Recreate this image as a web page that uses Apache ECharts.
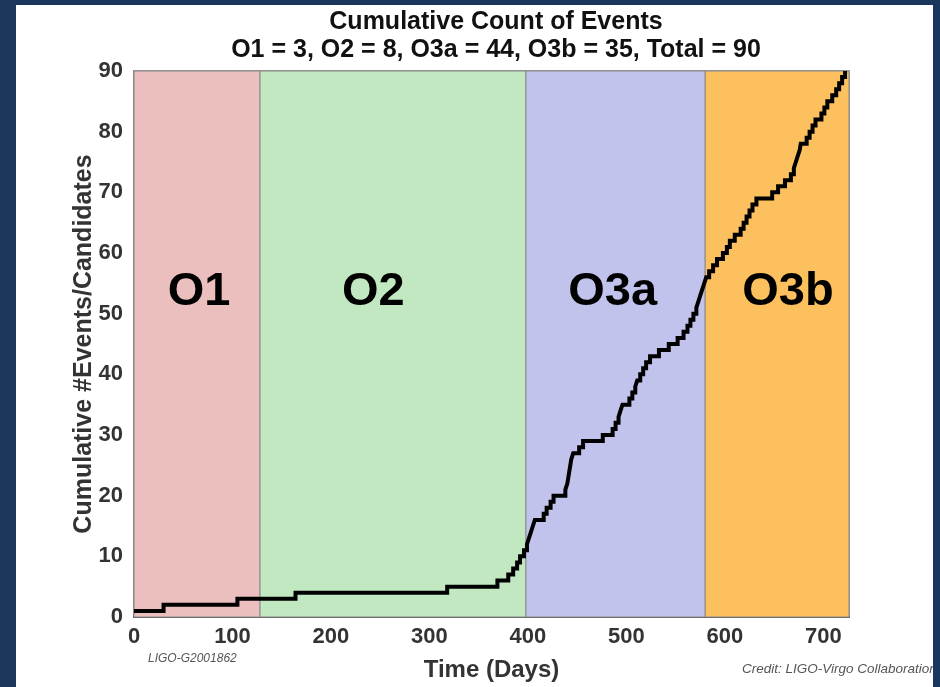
<!DOCTYPE html>
<html>
<head>
<meta charset="utf-8">
<script src="https://cdn.jsdelivr.net/npm/echarts@6/dist/echarts.min.js"></script>
<style>
html,body{margin:0;padding:0;background:#1b365d;}
#c{width:940px;height:687px;}
</style>
</head>
<body>
<div id="c"></div>
<script>
// ---- data ----
const titleText = 'Cumulative Count of Events';
const subtitleText = 'O1 = 3, O2 = 8, O3a = 44, O3b = 35, Total = 90';
const xAxisName = 'Time (Days)';
const yAxisName = 'Cumulative #Events/Candidates';
const docId = 'LIGO-G2001862';
const creditText = 'Credit: LIGO-Virgo Collaboration';

// day at which each cumulative count is reached
const stepDays = [
  0, 30, 105,
  164, 318, 369, 380, 385, 389, 392, 396,
  399, 401, 403, 405, 407, 416, 419, 423, 426, 438,
  440, 441, 442, 443, 444, 446, 452, 456, 476, 486,
  489, 492, 494, 496, 503, 506, 509, 511, 514, 517,
  520, 524, 533, 543, 552, 558, 562, 565, 568, 571,
  573, 575, 577, 579,
  581, 584, 588, 592, 598, 602, 605, 610, 616, 619,
  622, 625, 628, 632, 648, 654, 661, 667, 670, 672,
  674, 676, 677, 683, 686, 689, 692, 698, 701, 704,
  709, 713, 716, 719, 722
];
const stepCounts = [
  1, 2, 3,
  4, 5, 6, 7, 8, 9, 10, 11,
  12, 13, 14, 15, 16, 17, 18, 19, 20, 21,
  22, 23, 24, 25, 26, 27, 28, 29, 30, 31,
  32, 33, 34, 35, 36, 37, 38, 39, 40, 41,
  42, 43, 44, 45, 46, 47, 48, 49, 50, 51,
  52, 53, 54, 55,
  56, 57, 58, 59, 60, 61, 62, 63, 64, 65,
  66, 67, 68, 69, 70, 71, 72, 73, 74, 75,
  76, 77, 78, 79, 80, 81, 82, 83, 84, 85,
  86, 87, 88, 89, 90
];

const periodNames = ['O1', 'O2', 'O3a', 'O3b'];
const periodStart = [0, 128, 398, 580];
const periodEnd = [128, 398, 580, 726];

const xTickLabels = ['0', '100', '200', '300', '400', '500', '600', '700'];
const yTickLabels = ['0', '10', '20', '30', '40', '50', '60', '70', '80', '90'];

// ---- styles ----
const periodColors = ['#ecbfbf', '#c1e8c1', '#c2c3ec', '#fdc05e'];
const periodLabelAt = [[66, 53.5], [243, 53.5], [486, 53.5], [664, 53.5]];
const FONT = '"Liberation Sans", Arial, Helvetica, sans-serif';

const lineData = stepDays.map((d, i) => [d, stepCounts[i]]);

const chart = echarts.init(document.getElementById('c'), null, {renderer: 'canvas'});

const option = {
  backgroundColor: '#ffffff',
  animation: false,
  title: [
    {
      text: titleText, left: 491, top: 5, textAlign: 'center',
      textStyle: {fontFamily: FONT, fontWeight: 'bold', fontSize: 25, color: '#111'}
    },
    {
      text: subtitleText, left: 491, top: 33, textAlign: 'center',
      textStyle: {fontFamily: FONT, fontWeight: 'bold', fontSize: 25, color: '#111'}
    }
  ],
  grid: {
    left: 134, right: 91, top: 71, bottom: 70,
    show: true, borderColor: '#777', borderWidth: 1.5, backgroundColor: 'transparent'
  },
  xAxis: {
    type: 'value', min: 0, max: 726, interval: 100,
    name: xAxisName, nameLocation: 'middle', nameGap: 41,
    nameTextStyle: {fontFamily: FONT, fontWeight: 'bold', fontSize: 24, color: '#333'},
    axisLine: {show: true, lineStyle: {color: '#555', width: 2}},
    axisTick: {show: false},
    splitLine: {show: false},
    axisLabel: {
      margin: 9, fontFamily: FONT, fontWeight: 'bold', fontSize: 22, color: '#333',
      showMaxLabel: false,
      formatter: v => xTickLabels[Math.round(v / 100)] ?? ''
    }
  },
  yAxis: {
    type: 'value', min: 0, max: 90, interval: 10,
    name: yAxisName, nameLocation: 'middle', nameGap: 37, nameRotate: 90,
    nameMoveOverlap: false,
    nameTextStyle: {fontFamily: FONT, fontWeight: 'bold', fontSize: 25, color: '#333'},
    axisLine: {show: true, lineStyle: {color: '#777', width: 1.5}},
    axisTick: {show: false},
    splitLine: {show: false},
    axisLabel: {
      margin: 11, fontFamily: FONT, fontWeight: 'bold', fontSize: 22, color: '#333',
      formatter: v => yTickLabels[Math.round(v / 10)] ?? ''
    }
  },
  graphic: [
    {type: 'rect', z: 100, shape: {x: 0, y: 0, width: 16, height: 687}, style: {fill: '#1b365d'}},
    {type: 'rect', z: 100, shape: {x: 0, y: 0, width: 940, height: 5}, style: {fill: '#1b365d'}},
    {type: 'rect', z: 100, shape: {x: 933, y: 0, width: 7, height: 687}, style: {fill: '#1b365d'}},
    {type: 'text', z: 50, left: 148, top: 653,
      style: {text: docId, fontFamily: FONT, fontStyle: 'italic', fontSize: 12, fill: '#555'}},
    {type: 'text', z: 50, left: 742, top: 662,
      style: {text: creditText, fontFamily: FONT, fontStyle: 'italic', fontSize: 13.5, fill: '#555'}}
  ],
  series: [
    {
      type: 'line',
      name: 'cumulative',
      step: 'end',
      data: lineData,
      showSymbol: false,
      symbol: 'none',
      z: 5,
      lineStyle: {color: '#000', width: 4, join: 'miter', cap: 'butt'},
      markArea: {
        silent: true,
        data: periodNames.map((n, i) => [
          {xAxis: periodStart[i], itemStyle: {color: periodColors[i], borderColor: '#8a8a8a', borderWidth: 1}},
          {xAxis: periodEnd[i]}
        ])
      }
    },
    {
      type: 'scatter',
      name: 'periods',
      symbolSize: 0,
      z: 4,
      itemStyle: {opacity: 1},
      data: periodNames.map((n, i) => ({value: periodLabelAt[i], name: n})),
      label: {
        show: true, position: 'inside',
        formatter: p => p.name,
        fontFamily: FONT, fontWeight: 'bold', fontSize: 47, color: '#000', opacity: 1
      }
    }
  ]
};
chart.setOption(option);
</script>
</body>
</html>
